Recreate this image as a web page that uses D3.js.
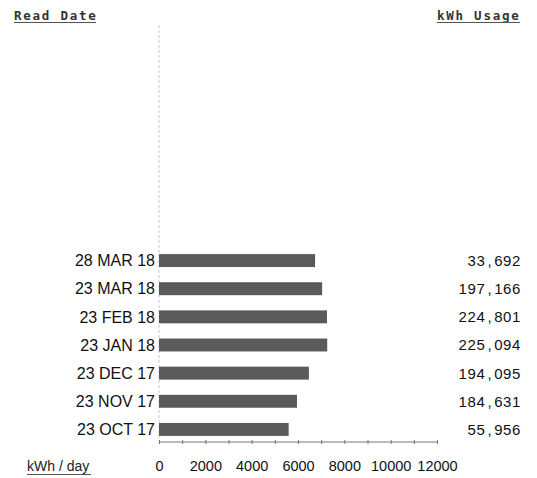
<!DOCTYPE html>
<html>
<head>
<meta charset="utf-8">
<script src="https://cdn.jsdelivr.net/npm/d3@7"></script>
<style>
body { margin: 0; background: #fff; }
</style>
</head>
<body>
<div id="chart"></div>
<script>
var readDates = ["28 MAR 18", "23 MAR 18", "23 FEB 18", "23 JAN 18", "23 DEC 17", "23 NOV 17", "23 OCT 17"];
var kwhPerDay = [6738, 7042, 7252, 7261, 6470, 5956, 5596];
var kwhUsage = ["33,692", "197,166", "224,801", "225,094", "194,095", "184,631", "55,956"];
var xTicks = [0, 2000, 4000, 6000, 8000, 10000, 12000];

function init() {
    var w = 537;
    var h = 478;
    var left = 159;
    var right = 437;
    var axisY = 442;

    var svg = d3.select("#chart")
        .append("svg")
        .attr("width", w)
        .attr("height", h);

    var xScale = d3.scaleLinear()
        .domain([0, 12000])
        .range([left, right]);

    var yScale = d3.scaleBand()
        .domain(readDates)
        .range([246.5, 443.5])
        .paddingInner(0.54)
        .paddingOuter(0.27);

    var mono = "'DejaVu Sans Mono', monospace";
    var sans = "'Liberation Sans', Arial, sans-serif";

    // headers
    svg.append("text")
        .attr("x", 14).attr("y", 20)
        .attr("font-family", mono).attr("font-size", 12.5)
        .attr("font-weight", "bold")
        .attr("letter-spacing", 1.75)
        .attr("fill", "#333")
        .text("Read Date");
    svg.append("line")
        .attr("x1", 14).attr("x2", 96).attr("y1", 22.5).attr("y2", 22.5)
        .attr("stroke", "#555").attr("stroke-width", 1.2);

    svg.append("text")
        .attr("x", 437).attr("y", 20)
        .attr("font-family", mono).attr("font-size", 12.5)
        .attr("font-weight", "bold")
        .attr("letter-spacing", 1.75)
        .attr("fill", "#333")
        .text("kWh Usage");
    svg.append("line")
        .attr("x1", 437).attr("x2", 520).attr("y1", 22.5).attr("y2", 22.5)
        .attr("stroke", "#555").attr("stroke-width", 1.2);

    // vertical dotted base line
    svg.append("line")
        .attr("x1", left).attr("x2", left)
        .attr("y1", 25).attr("y2", axisY)
        .attr("stroke", "#bbb")
        .attr("stroke-width", 0.8)
        .attr("stroke-dasharray", "3,2");

    // bars
    svg.selectAll("rect.bar")
        .data(kwhPerDay)
        .enter()
        .append("rect")
        .attr("class", "bar")
        .attr("x", xScale(0))
        .attr("y", function(d, i) { return yScale(readDates[i]); })
        .attr("width", function(d) { return xScale(d) - xScale(0); })
        .attr("height", yScale.bandwidth())
        .attr("fill", "#5a5a5a");

    // category labels
    svg.selectAll("text.cat")
        .data(readDates)
        .enter()
        .append("text")
        .attr("class", "cat")
        .attr("x", 155)
        .attr("y", function(d) { return yScale(d) + yScale.bandwidth() / 2; })
        .attr("dy", "0.36em")
        .attr("text-anchor", "end")
        .attr("font-family", sans)
        .attr("font-size", 16)
        .attr("fill", "#111")
        .text(function(d) { return d; });

    // usage labels (comma spaced out like the original print)
    var usage = svg.selectAll("text.usage")
        .data(kwhUsage)
        .enter()
        .append("text")
        .attr("class", "usage")
        .attr("x", 521)
        .attr("y", function(d, i) { return yScale(readDates[i]) + yScale.bandwidth() / 2; })
        .attr("dy", "0.36em")
        .attr("text-anchor", "end")
        .attr("font-family", sans)
        .attr("font-size", 15)
        .attr("letter-spacing", 0.6)
        .attr("fill", "#111");
    usage.append("tspan").text(function(d) { return d.split(",")[0]; });
    usage.append("tspan").attr("dx", 2).text(",");
    usage.append("tspan").attr("dx", 2).text(function(d) { return d.split(",")[1]; });

    // x axis
    var xAxis = d3.axisBottom(xScale)
        .tickValues(d3.range(0, 12001, 1000))
        .tickSize(2)
        .tickFormat(function(d) { return xTicks.indexOf(d) >= 0 ? d : ""; });

    var gx = svg.append("g")
        .attr("transform", "translate(0," + axisY + ")")
        .call(xAxis);
    gx.select(".domain")
        .attr("stroke", "#777")
        .attr("d", "M" + left + ",0H" + right);
    gx.selectAll(".tick line")
        .attr("stroke", "#777")
        .attr("y1", -2).attr("y2", 2);
    gx.selectAll(".tick text")
        .attr("y", 19)
        .attr("font-family", sans)
        .attr("font-size", 14.5)
        .attr("fill", "#111");

    svg.append("text")
        .attr("x", 27).attr("y", 471)
        .attr("font-family", sans)
        .attr("font-size", 14)
        .attr("fill", "#222")
        .text("kWh / day");
    svg.append("line")
        .attr("x1", 27).attr("x2", 91).attr("y1", 474.5).attr("y2", 474.5)
        .attr("stroke", "#555").attr("stroke-width", 1.2);
}

window.onload = init;
</script>
</body>
</html>
